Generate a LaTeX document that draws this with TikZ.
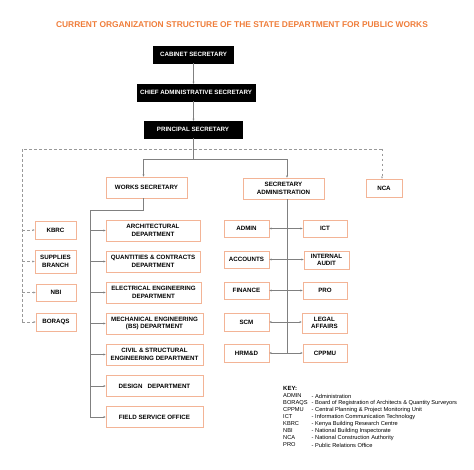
\documentclass[tikz,border=0pt]{standalone}
\usepackage{fontspec}
\setmainfont{Liberation Sans}
\usetikzlibrary{arrows.meta}
\definecolor{ttl}{HTML}{EF7D3A}
\definecolor{bord}{HTML}{F3B496}
\definecolor{ln}{HTML}{808080}
\tikzset{
  blk/.style={fill=black,draw=black,text=white,font=\fontsize{6.2}{7.2}\selectfont\bfseries,inner sep=0pt,align=center},
  obox/.style={fill=white,draw=bord,line width=0.8pt,font=\fontsize{6.2}{7.4}\selectfont\bfseries,inner sep=0pt,align=center},
  con/.style={draw=ln,line width=0.6pt,-{Stealth[length=2.2pt,width=2pt]}},
  con2/.style={draw=ln,line width=0.6pt,{Stealth[length=2.2pt,width=2pt]}-{Stealth[length=2.2pt,width=2pt]}},
  plain/.style={draw=ln,line width=0.6pt},
  dcon/.style={draw=ln!80,line width=0.6pt,dash pattern=on 2.5pt off 2.5pt,-{Stealth[length=2.2pt,width=2pt]}},
  dplain/.style={draw=ln!80,line width=0.6pt,dash pattern=on 2.5pt off 2.5pt},
  keyt/.style={anchor=west,inner sep=0pt,font=\fontsize{5.7}{6.5}\selectfont},
}
\begin{document}
\begin{tikzpicture}[x=1pt,y=-1pt]
\useasboundingbox (0,0) rectangle (474,470);
\node[text=ttl,font=\fontsize{8.4}{10}\selectfont\bfseries] (title) at (242,24.5) {CURRENT ORGANIZATION STRUCTURE OF THE STATE DEPARTMENT FOR PUBLIC WORKS};

\node[blk,minimum width=80,minimum height=17] (cs) at (193.5,54.5) {CABINET SECRETARY};
\node[blk,minimum width=118,minimum height=17] (cas) at (196,92.5) {CHIEF ADMINISTRATIVE SECRETARY};
\node[blk,minimum width=98,minimum height=17] (ps) at (193,129.5) {PRINCIPAL SECRETARY};

\node[obox,minimum width=81,minimum height=21] (ws) at (146.5,187.5) {WORKS SECRETARY};
\node[obox,minimum width=81,minimum height=21] (sa) at (283.5,188.5) {SECRETARY\\ADMINISTRATION};
\node[obox,minimum width=36,minimum height=18] (nca) at (384,188) {NCA};

\node[obox,minimum width=41,minimum height=18] (kbrc) at (55.5,230) {KBRC};
\node[obox,minimum width=41,minimum height=23] (sup) at (55.5,261.5) {SUPPLIES\\BRANCH};
\node[obox,minimum width=40,minimum height=17] (nbi) at (56,292.5) {NBI};
\node[obox,minimum width=40,minimum height=18] (bor) at (56,322) {BORAQS};

\node[obox,minimum width=94,minimum height=21] (arch) at (153,230.5) {ARCHITECTURAL\\DEPARTMENT};
\node[obox,minimum width=94,minimum height=21] (qty) at (153,261.5) {QUANTITIES \& CONTRACTS\\DEPARTMENT};
\node[obox,minimum width=95,minimum height=21] (elec) at (153.5,292.5) {ELECTRICAL ENGINEERING\\DEPARTMENT};
\node[obox,minimum width=97,minimum height=21] (mech) at (154.5,323.5) {MECHANICAL ENGINEERING\\(BS) DEPARTMENT};
\node[obox,minimum width=97,minimum height=21] (civ) at (154.5,354.5) {CIVIL \& STRUCTURAL\\ENGINEERING DEPARTMENT};
\node[obox,minimum width=97,minimum height=21] (des) at (154.5,386) {DESIGN\ \ \ DEPARTMENT};
\node[obox,minimum width=97,minimum height=21] (fso) at (154.5,417) {FIELD SERVICE OFFICE};

\node[obox,minimum width=45,minimum height=17] (adm) at (246.5,228.5) {ADMIN};
\node[obox,minimum width=45,minimum height=17] (acc) at (246.5,259.5) {ACCOUNTS};
\node[obox,minimum width=45,minimum height=17] (fin) at (246.5,290.5) {FINANCE};
\node[obox,minimum width=45,minimum height=18] (scm) at (246.5,322) {SCM};
\node[obox,minimum width=45,minimum height=18] (hrm) at (246.5,353) {HRM\&D};

\node[obox,minimum width=44,minimum height=17] (ict) at (325,228.5) {ICT};
\node[obox,minimum width=45,minimum height=18] (ia) at (326.5,260) {INTERNAL\\AUDIT};
\node[obox,minimum width=44,minimum height=17] (pro) at (325,290.5) {PRO};
\node[obox,minimum width=45,minimum height=20] (leg) at (324.5,323) {LEGAL\\AFFAIRS};
\node[obox,minimum width=44,minimum height=18] (cpp) at (325,353) {CPPMU};

% top chain
\draw[con] (cs.south -| 193.5,0) -- (cas.north -| 193.5,0);
\draw[con] (cas.south -| 193.5,0) -- (ps.north -| 193.5,0);
\coordinate (j) at (193.5,159.5);
\coordinate (jl) at (143.5,159.5);
\coordinate (jr) at (287,159.5);
\draw[plain] (ps.south -| j) -- (j);
\draw[plain] (jl) -- (jr);
\draw[con] (jl) -- (ws.north -| jl);
\draw[con] (jr) -- (sa.north -| jr);

% dashed
\coordinate (dl) at (22,149);
\coordinate (dr) at (382,149);
\coordinate (dlb) at (22,322);
\draw[dplain] (dlb) -- (dl) -- (dr);
\draw[dcon] (dr) -- (nca.north -| dr);
\draw[dcon] (kbrc.west -| dl) -- (kbrc.west);
\draw[dcon] (sup.west -| dl) -- (sup.west);
\draw[dcon] (nbi.west -| dl) -- (nbi.west);
\draw[dcon] (bor.west -| dl) -- (bor.west);

% works secretary tree
\coordinate (w1) at (143.5,210);
\coordinate (w2) at (90,210);
\coordinate (w3) at (90,417);
\draw[plain] (ws.south -| w1) -- (w1) -- (w2) -- (w3);
\foreach \n in {arch,qty,elec,mech,civ,des,fso}
  \draw[con] (\n.west -| w2) -- (\n.west);

% admin tree
\coordinate (s1) at (287,353);
\draw[plain] (sa.south -| s1) -- (s1);
\draw[con2] (adm.east) -- (ict.west);
\draw[con2] (acc.east) -- (ia.west |- acc.east);
\draw[con2] (fin.east) -- (pro.west);
\draw[con2] (scm.east) -- (leg.west |- scm.east);
\draw[con2] (hrm.east) -- (cpp.west);

% key
\node[keyt,font=\fontsize{6}{7}\selectfont\bfseries] (key) at (283,388.5) {KEY:};
\foreach \a/\d/\yy [count=\i] in {ADMIN/Administration/396,BORAQS/Board of Registration of Architects \& Quantity Surveyors/403,CPPMU/Central Planning \& Project Monitoring Unit/410,ICT/Information Communication Technology/417,KBRC/Kenya Building Research Centre/424,NBI/National Building Inspectorate/431,NCA/National Construction Authority/438,PRO/Public Relations Office/445}{
  \node[keyt] (ka\i) at (283,\yy) {\a};
  \node[keyt] (kd\i) at (311.5,\yy) {- \d};
}
\end{tikzpicture}
\end{document}
